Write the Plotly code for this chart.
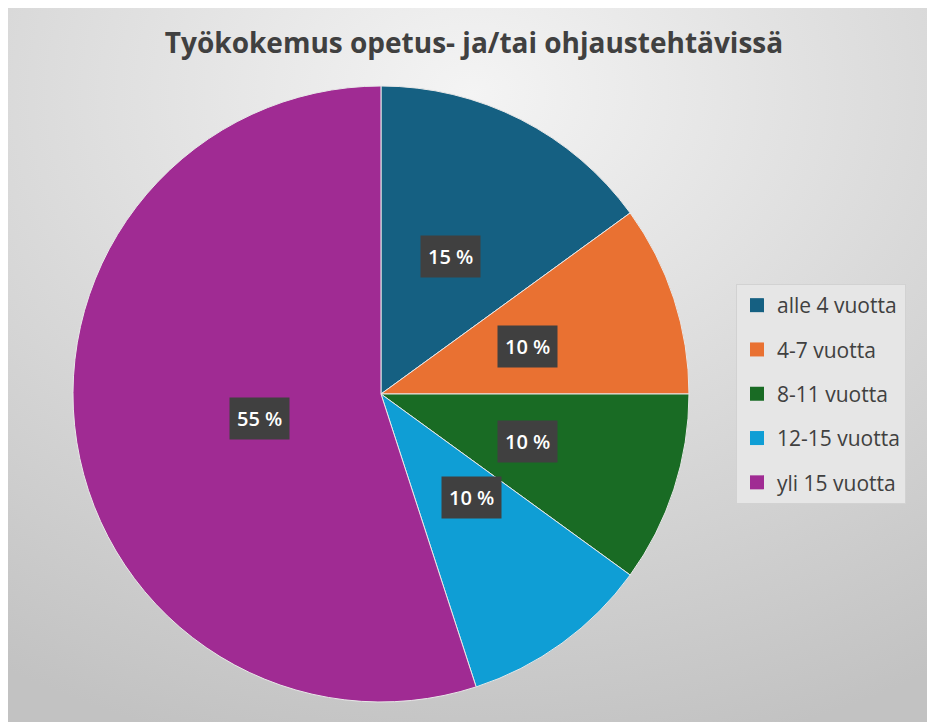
import base64
import math

import plotly.graph_objects as go

TITLE = "Työkokemus opetus- ja/tai ohjaustehtävissä"
CATEGORIES = ["alle 4 vuotta", "4-7 vuotta", "8-11 vuotta", "12-15 vuotta", "yli 15 vuotta"]
SHARES = [15, 10, 10, 10, 55]
COLORS = ["#156082", "#E97132", "#196B24", "#0F9ED5", "#A02B93"]

# the page body adds an 8px margin, so the figure is a bit smaller than the window
W, H = 927, 714
PIE_X = (0.0701, 0.7346)
PIE_Y = (0.028, 0.8908)
TEXT = "#404040"
FONT = "Open Sans"

# grey radial backdrop like the Office chart area
bg_svg = (
    f'<svg xmlns="http://www.w3.org/2000/svg" width="{W}" height="{H}">'
    '<defs><radialGradient id="g" cx="0.5" cy="0.12" r="0.95">'
    '<stop offset="0" stop-color="#f4f4f4"/><stop offset="1" stop-color="#c2c2c2"/>'
    f'</radialGradient></defs><rect width="{W}" height="{H}" fill="url(#g)"/></svg>'
)
bg_uri = "data:image/svg+xml;base64," + base64.b64encode(bg_svg.encode()).decode()

fig = go.Figure()
fig.add_pie(
    labels=CATEGORIES, values=SHARES, sort=False, direction="clockwise", rotation=0,
    marker={"colors": COLORS, "line": {"color": "#e8e8e8", "width": 1}},
    textinfo="none", hoverinfo="label+percent", showlegend=False,
    domain={"x": list(PIE_X), "y": list(PIE_Y)},
)

# legend entries as dummy traces so the row spacing can be opened up
for name, color in zip(CATEGORIES, COLORS):
    fig.add_scatter(x=[None], y=[None], name=name, mode="markers", legendgroup=name,
                    marker={"symbol": "square", "size": 14, "color": color}, hoverinfo="skip")

# value labels in dark boxes at the middle angle of each slice
cx_px = (PIE_X[0] + PIE_X[1]) / 2 * W
cy_px = (1 - (PIE_Y[0] + PIE_Y[1]) / 2) * H
radius = min((PIE_X[1] - PIE_X[0]) * W, (PIE_Y[1] - PIE_Y[0]) * H) / 2
total = sum(SHARES)
start = 0.0
for share in SHARES:
    mid = math.radians((start + share / 2) / total * 360)
    start += share
    lx = cx_px + 0.5 * radius * math.sin(mid)
    ly = cy_px - 0.5 * radius * math.cos(mid)
    fig.add_annotation(
        x=lx / W, y=1 - ly / H, xref="paper", yref="paper", text=f"{share} %", showarrow=False,
        font={"family": FONT, "size": 20, "color": "white", "weight": 600},
        bgcolor="#404040", borderpad=7,
    )

fig.add_layout_image(source=bg_uri, xref="paper", yref="paper", x=0, y=1,
                     sizex=1, sizey=1, sizing="stretch", layer="below")
fig.update_xaxes(visible=False)
fig.update_yaxes(visible=False)
fig.update_layout(
    width=W, height=H, margin={"t": 0, "r": 0, "b": 0, "l": 0},
    paper_bgcolor="#d8d8d8", plot_bgcolor="rgba(0,0,0,0)",
    title={"text": f"<b>{TITLE}</b>", "x": 466 / W, "xanchor": "center", "y": 1 - 35 / H, "yanchor": "middle",
           "font": {"family": FONT, "size": 28, "color": TEXT}},
    legend={"x": 728 / W, "y": 1 - 276 / H, "xanchor": "left", "yanchor": "top",
            "bgcolor": "#e6e6e6", "bordercolor": "#d2d2d2", "borderwidth": 1,
            "font": {"family": FONT, "size": 21, "color": TEXT},
            "traceorder": "grouped", "tracegroupgap": 14, "itemclick": False},
)
fig.write_html("out.html")
